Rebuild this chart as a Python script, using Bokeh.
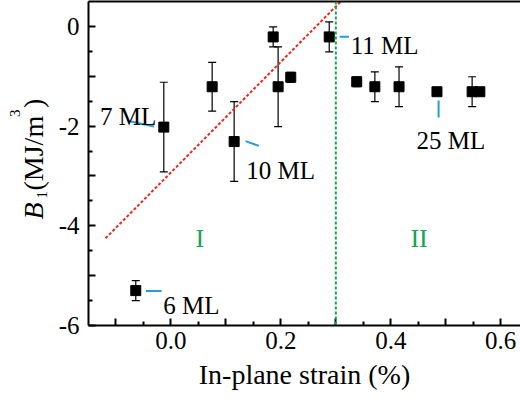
from bokeh.plotting import figure
from bokeh.embed import file_html
from bokeh.resources import INLINE
from bokeh.layouts import row
from bokeh.models import (FixedTicker, CustomJSTickFormatter, Whisker,
                          ColumnDataSource, TeeHead, LinearAxis, Span)
from bokeh.core.properties import value
import math

# ---- data ----
strain = [-0.064, -0.013, 0.075, 0.115, 0.186, 0.195, 0.218, 0.288,
          0.338, 0.371, 0.415, 0.484, 0.548, 0.562]
b1 = [-5.30, -2.02, -1.21, -2.31, -0.21, -1.21, -1.02, -0.21,
      -1.11, -1.21, -1.21, -1.31, -1.31, -1.31]
b1_err = [0.20, 0.90, 0.49, 0.80, 0.20, 0.80, 0.10, 0.30,
          0.10, 0.30, 0.40, 0.07, 0.30, 0.06]

fit_x = [-0.119, 0.31]
fit_y = [-4.25, 0.51]
boundary_x = 0.3

ann_text = ["7 ML", "10 ML", "11 ML", "25 ML", "6 ML"]
ann_x = [-0.129, 0.137, 0.327, 0.447, -0.014]
ann_y = [-1.806, -2.886, -0.386, -2.286, -5.606]
lead_x0 = [-0.0727, 0.1358, 0.307, 0.487, -0.0455]
lead_y0 = [-1.906, -2.30, -0.206, -1.486, -5.306]
lead_x1 = [-0.0309, 0.160, 0.324, 0.487, -0.0169]
lead_y1 = [-2.006, -2.396, -0.206, -1.826, -5.306]

region_text = ["I", "II"]
region_x = [0.0527, 0.4515]
region_y = [-4.25, -4.26]

x_major = [round(-0.1 + 0.1 * i, 2) for i in range(8)]
x_minor = [round(-0.05 + 0.1 * i, 2) for i in range(7)]
y_major = [-6, -5, -4, -3, -2, -1, 0]
y_minor = [-5.5, -4.5, -3.5, -2.5, -1.5, -0.5]

x_title = "In-plane strain (%)"
y_title_parts = ["B", "1", "(MJ/m", "3", ")"]

FONT = "Liberation Serif"
BLUE = "#1fa0d8"
GREEN = "#14a654"
RED = "#e8281e"
H = 399
LW = 50
FRAME_TOP = 1
FRAME_BOTTOM = 325

# ---------- narrow figure holding the rotated y-axis title ----------
yl = figure(width=LW, height=H, x_range=(0, LW),
            y_range=(H - FRAME_BOTTOM, H - FRAME_TOP),
            output_backend="svg", toolbar_location=None,
            x_axis_location=None, y_axis_location=None, title=None,
            min_border=0, min_border_left=0, min_border_right=0,
            min_border_top=FRAME_TOP, min_border_bottom=H - FRAME_BOTTOM)
yl.grid.visible = False
yl.outline_line_color = None
# piece: anchor x (px), start y (px from top), size, style
piece_x = [33, 41.5, 33, 14.5, 33]
piece_top = [219, 198, 190, 116.5, 107.5]
piece_size = ["28px", "15px", "28px", "15px", "28px"]
piece_style = ["italic", "normal", "normal", "normal", "normal"]
for t, px, py, fs, st in zip(y_title_parts, piece_x, piece_top, piece_size, piece_style):
    yl.text([px], [H - py], text=[t], text_font=value(FONT), text_font_size=fs,
            text_font_style=st, angle=math.pi / 2, text_align="left",
            text_baseline="alphabetic", text_color="black")

# ---------- main figure ----------
p = figure(width=520 - LW, height=H, x_range=(-0.15, 0.636), y_range=(-6, 0.5),
           output_backend="svg", toolbar_location=None,
           min_border_left=88 - LW, min_border_right=0, min_border_top=FRAME_TOP,
           min_border_bottom=H - FRAME_BOTTOM)
p.grid.visible = False
p.outline_line_color = None

for axs in (p.xaxis, p.yaxis):
    axs.axis_line_width = 2
    axs.major_tick_line_width = 2
    axs.minor_tick_line_width = 2
    axs.major_tick_out = 0
    axs.minor_tick_out = 0
    axs.major_tick_in = 7
    axs.minor_tick_in = 4
    axs.major_label_text_font = FONT
    axs.major_label_text_font_size = "25px"
    axs.major_label_text_color = "black"

p.xaxis.ticker = FixedTicker(ticks=x_major, minor_ticks=x_minor)
p.xaxis.formatter = CustomJSTickFormatter(
    code="const r = Math.round(tick*10); return (r % 2 === 0) ? (Math.abs(tick) < 1e-9 ? '0.0' : tick.toFixed(1)) : '';")
p.xaxis.major_label_standoff = 6
p.xaxis.axis_label = x_title
p.xaxis.axis_label_text_font = FONT
p.xaxis.axis_label_text_font_size = "28px"
p.xaxis.axis_label_text_font_style = "normal"
p.xaxis.axis_label_text_color = "black"
p.xaxis.axis_label_standoff = 7

p.yaxis.ticker = FixedTicker(ticks=y_major, minor_ticks=y_minor)
p.yaxis.formatter = CustomJSTickFormatter(
    code="const r = Math.round(tick); return (r % 2 === 0) ? String(r === 0 ? 0 : r) : '';")
p.yaxis.major_label_standoff = 9

top = LinearAxis(ticker=FixedTicker(ticks=[]), major_tick_in=0, major_tick_out=0,
                 minor_tick_in=0, minor_tick_out=0, major_label_text_font_size="0px",
                 axis_line_width=2)
p.add_layout(top, "above")

# fit line and boundary
p.line(fit_x, fit_y, line_color=RED, line_width=2, line_dash="3 2")
p.add_layout(Span(location=boundary_x, dimension="height", line_color=GREEN,
                  line_width=2, line_dash="3 2"))

# error bars + points
src = ColumnDataSource(dict(x=strain, y=b1,
                            upper=[v + e for v, e in zip(b1, b1_err)],
                            lower=[v - e for v, e in zip(b1, b1_err)]))
p.add_layout(Whisker(base="x", upper="upper", lower="lower", source=src,
                     line_color="black", line_width=1.2,
                     upper_head=TeeHead(size=8, line_color="black", line_width=1.2),
                     lower_head=TeeHead(size=8, line_color="black", line_width=1.2)))
p.scatter("x", "y", source=src, marker="square", size=10,
          fill_color="black", line_color="black")

# annotations
p.segment(lead_x0, lead_y0, lead_x1, lead_y1, line_color=BLUE, line_width=2)
p.text(ann_x, ann_y, text=ann_text, text_font=value(FONT), text_font_size="25px",
       text_baseline="alphabetic", text_align="left", text_color="black")
p.text(region_x, region_y, text=region_text, text_font=value(FONT),
       text_font_size="26px", text_baseline="alphabetic", text_align="center",
       text_color=GREEN)

layout = row(yl, p, spacing=0)
open("out.html", "w").write(file_html(layout, INLINE))
